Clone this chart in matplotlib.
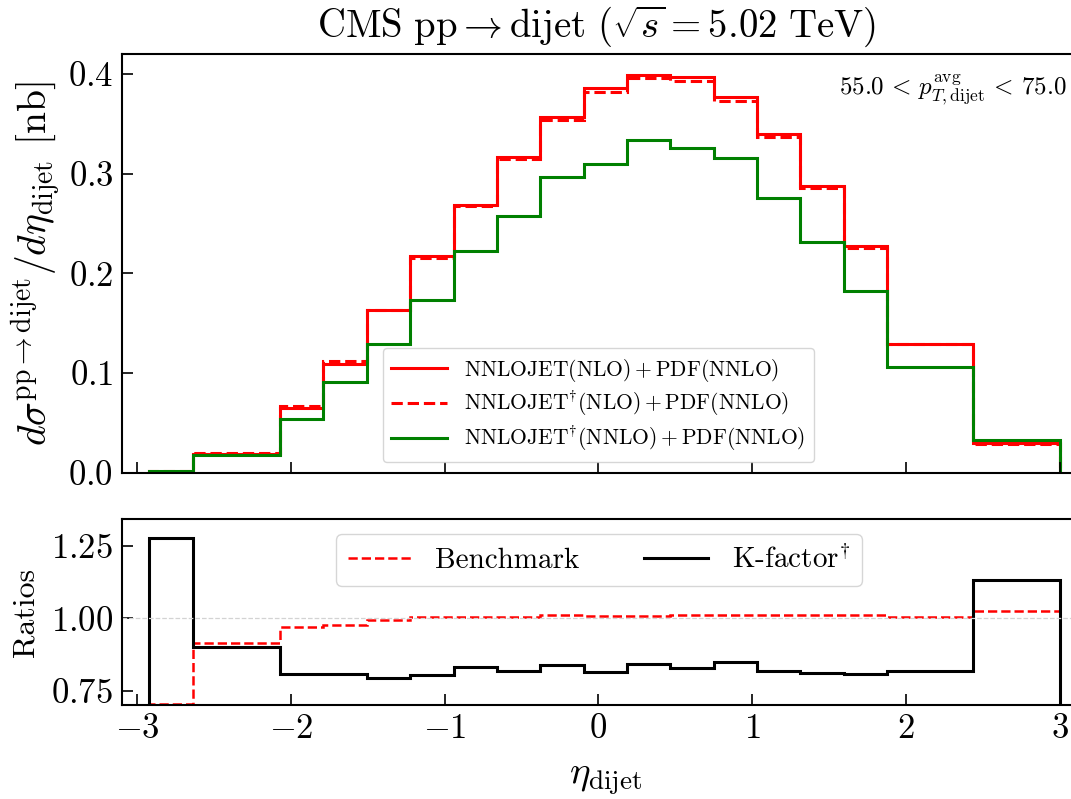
import numpy as np
import matplotlib
matplotlib.use("Agg")
from matplotlib import pyplot as plt

plt.rcParams['font.family'] = 'serif'
plt.rcParams['font.serif'] = ['cmr10']
plt.rcParams['mathtext.fontset'] = 'cm'
plt.rcParams['axes.formatter.use_mathtext'] = True
plt.rcParams['axes.unicode_minus'] = True

# bin edges in eta_dijet
edges = [-2.92, -2.635, -2.07, -1.79, -1.505, -1.225, -0.94, -0.66, -0.38, -0.095,
         0.185, 0.465, 0.75, 1.03, 1.31, 1.595, 1.875, 2.44, 3.0]

# d sigma / d eta [nb]
nlo = [0.0009, 0.0184, 0.0651, 0.1095, 0.1636, 0.2173, 0.2688, 0.3165, 0.3565,
       0.3856, 0.3993, 0.3973, 0.3766, 0.3399, 0.2874, 0.2273, 0.1296, 0.0294]
nlo_dag = [0.0013, 0.0200, 0.0668, 0.1119, 0.1630, 0.2157, 0.2671, 0.3149, 0.3539,
           0.3816, 0.3960, 0.3926, 0.3726, 0.3365, 0.2854, 0.2250, 0.1286, 0.0284]
nnlo_dag = [0.0017, 0.0181, 0.0538, 0.0905, 0.1296, 0.1736, 0.2227, 0.2578, 0.2965,
            0.3099, 0.3339, 0.3259, 0.3159, 0.2758, 0.2317, 0.1823, 0.1062, 0.0327]

# ratios
benchmark = [0.703, 0.916, 0.969, 0.978, 0.994, 1.005, 1.005, 1.005, 1.010,
             1.009, 1.008, 1.010, 1.011, 1.010, 1.010, 1.010, 1.003, 1.025]
kfactor = [1.277, 0.902, 0.808, 0.808, 0.793, 0.802, 0.833, 0.819, 0.839,
           0.813, 0.842, 0.829, 0.848, 0.818, 0.811, 0.808, 0.819, 1.131]

W, H = 1071, 799
x0, x1 = 121.7, 1090.0
fig = plt.figure(figsize=(W / 100, H / 100), dpi=100)
ax = fig.add_axes([x0 / W, 1 - 472.7 / H, (x1 - x0) / W, (472.7 - 54) / H])
axr = fig.add_axes([x0 / W, 1 - 705 / H, (x1 - x0) / W, (705 - 519.3) / H], sharex=ax)

ax.stairs(nlo, edges, baseline=0, color='red', lw=2.2, label=r'$\mathrm{NNLOJET(NLO)}+\mathrm{PDF(NNLO)}$')
ax.stairs(nlo_dag, edges, baseline=0, color='red', lw=2.2, ls='--',
          label=r'$\mathrm{NNLOJET}^{\dagger}\mathrm{(NLO)}+\mathrm{PDF(NNLO)}$')
ax.stairs(nnlo_dag, edges, baseline=0, color='green', lw=2.2,
          label=r'$\mathrm{NNLOJET}^{\dagger}\mathrm{(NNLO)}+\mathrm{PDF(NNLO)}$')

# -3.1 at left edge, 153.75 px per unit
ax.set_xlim(-3.1, -3.1 + (x1 - x0) / 153.75)
ax.set_ylim(0, 0.42)
ax.set_yticks([0.0, 0.1, 0.2, 0.3, 0.4])
ax.set_ylabel(r'$d\sigma^{\mathrm{pp}\rightarrow\mathrm{dijet}}/d\eta_{\mathrm{dijet}}$ [nb]', fontsize=28.5, labelpad=4)
ax.text((597 - x0) / (x1 - x0), 1.012,
        r'$\mathrm{CMS\ pp}\rightarrow\mathrm{dijet}\ (\sqrt{s}=5.02\ \mathrm{TeV})$',
        transform=ax.transAxes, ha='center', va='bottom', fontsize=28)
ax.text((1067 - x0) / (x1 - x0), 0.955, r'$55.0\, <\, p_{T,\mathrm{dijet}}^{\mathrm{avg}}\, <\, 75.0$',
        transform=ax.transAxes, ha='right', va='top', fontsize=18)
ax.legend(loc='lower center', bbox_to_anchor=((598.5 - x0) / (x1 - x0), 0.0), fontsize=15.5,
          handlelength=2.6, labelspacing=0.3)
ax.tick_params(axis='both', direction='in', length=8, width=1.2, labelsize=25, pad=6, labelbottom=False)

axr.axhline(1.0, color='lightgray', lw=0.9, ls='--')
axr.stairs(benchmark, edges, baseline=0, color='red', lw=1.8, ls='--', label='Benchmark')
axr.stairs(kfactor, edges, baseline=0, color='black', lw=2.2, label=r'K-factor$^{\dagger}$')
axr.set_ylim(0.70, 1.342)
axr.set_yticks([0.75, 1.00, 1.25])
axr.set_yticklabels(['$0.75$', '$1.00$', '$1.25$'])
axr.set_ylabel('Ratios', fontsize=23, labelpad=8)
axr.set_xlabel(r'$\eta_{\mathrm{dijet}}$', fontsize=28, labelpad=12)
axr.set_xticks([-3, -2, -1, 0, 1, 2, 3])
axr.legend(loc='upper center', bbox_to_anchor=((599 - x0) / (x1 - x0), 1.0), ncol=2, fontsize=21,
           handlelength=2.2, columnspacing=2.2)
axr.tick_params(axis='both', direction='in', length=8, width=1.2, labelsize=25, pad=6)

for a in (ax, axr):
    for s in a.spines.values():
        s.set_linewidth(1.5)
    # the right edge lies past the picture in the reference
    a.spines['right'].set_visible(False)

fig.savefig('out.png', dpi=100)
